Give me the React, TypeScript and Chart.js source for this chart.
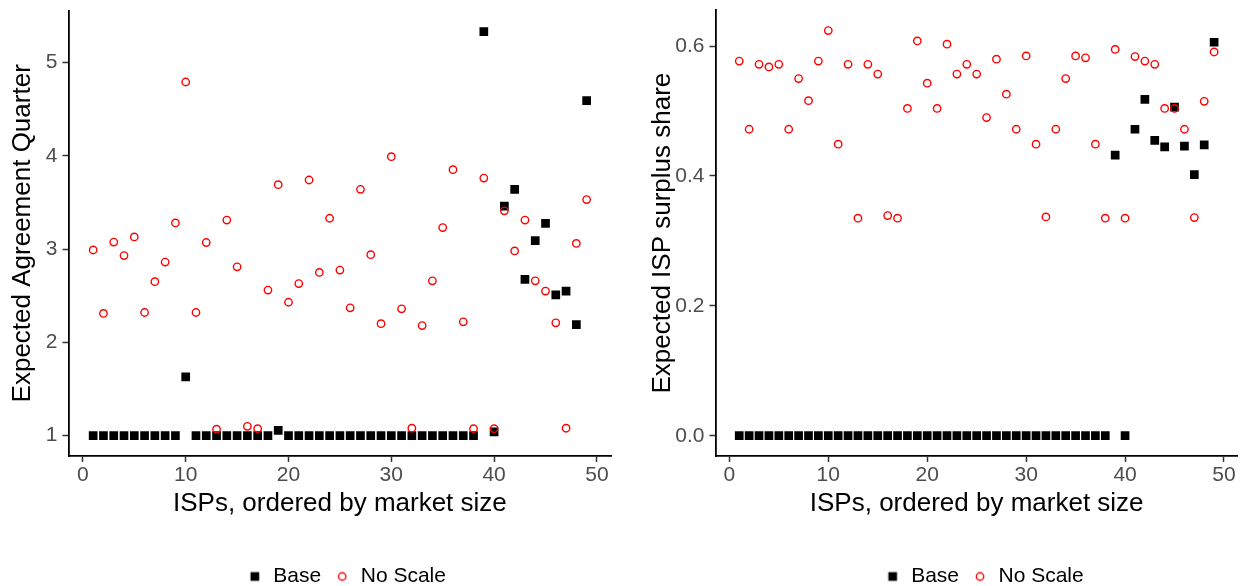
import React, { useEffect, useRef } from 'react';
import { Chart, registerables } from 'chart.js';

Chart.register(...registerables);

const FONT = "'Liberation Sans', Arial, Helvetica, sans-serif";

const ispIndex = [
  1, 2, 3, 4, 5, 6, 7, 8, 9, 10,
  11, 12, 13, 14, 15, 16, 17, 18, 19, 20,
  21, 22, 23, 24, 25, 26, 27, 28, 29, 30,
  31, 32, 33, 34, 35, 36, 37, 38, 39, 40,
  41, 42, 43, 44, 45, 46, 47, 48, 49,
];

const seriesLabels = ['Base', 'No Scale'];
const xAxisTitle = 'ISPs, ordered by market size';
const xTicks = [0, 10, 20, 30, 40, 50];

// Left panel: Expected Agreement Quarter
const quarterBase = [
  1, 1, 1, 1, 1, 1, 1, 1, 1, 1.63,
  1, 1, 1, 1, 1, 1, 1, 1, 1.057, 1,
  1, 1, 1, 1, 1, 1, 1, 1, 1, 1,
  1, 1, 1, 1, 1, 1, 1, 1, 5.33, 1.04,
  3.46, 3.64, 2.675, 3.09, 3.275, 2.51, 2.55, 2.19, 4.59,
];
const quarterNoScale = [
  2.99, 2.31, 3.075, 2.93, 3.13, 2.32, 2.65, 2.86, 3.28, 4.79,
  2.32, 3.07, 1.07, 3.31, 2.81, 1.1, 1.075, 2.56, 3.69, 2.43,
  2.63, 3.74, 2.75, 3.33, 2.775, 2.37, 3.64, 2.94, 2.2, 3.99,
  2.36, 1.08, 2.18, 2.66, 3.23, 3.85, 2.22, 1.075, 3.76, 1.075,
  3.41, 2.98, 3.31, 2.66, 2.55, 2.21, 1.08, 3.06, 3.53,
];
const quarterTicks = [1, 2, 3, 4, 5];

// Right panel: Expected ISP surplus share
const shareBase = [
  0, 0, 0, 0, 0, 0, 0, 0, 0, 0,
  0, 0, 0, 0, 0, 0, 0, 0, 0, 0,
  0, 0, 0, 0, 0, 0, 0, 0, 0, 0,
  0, 0, 0, 0, 0, 0, 0, 0, 0.432, 0,
  0.472, 0.518, 0.455, 0.445, 0.506, 0.446, 0.402, 0.448, 0.606,
];
const shareNoScale = [
  0.577, 0.472, 0.572, 0.568, 0.572, 0.472, 0.55, 0.516, 0.577, 0.624,
  0.449, 0.572, 0.335, 0.572, 0.557, 0.339, 0.335, 0.504, 0.608, 0.543,
  0.504, 0.603, 0.557, 0.572, 0.557, 0.49, 0.58, 0.526, 0.472, 0.585,
  0.449, 0.337, 0.472, 0.55, 0.585, 0.582, 0.449, 0.335, 0.595, 0.335,
  0.584, 0.577, 0.572, 0.504, 0.504, 0.472, 0.336, 0.515, 0.591,
];
const shareTicks = [0, 0.2, 0.4, 0.6];

const legendShift = {
  id: 'legendShift',
  afterLayout(chart: any, _args: any, opts: any) {
    const l = chart.legend;
    if (l && opts && opts.dx) {
      l.left += opts.dx;
      l.right += opts.dx;
    }
  },
};

function makeIcon(kind: 'square' | 'circle') {
  const c = document.createElement('canvas');
  c.width = 14;
  c.height = 14;
  const g = c.getContext('2d')!;
  if (kind === 'square') {
    g.fillStyle = '#000000';
    g.fillRect(7 - 4.35, 7 - 4.35, 8.7, 8.7);
  } else {
    g.strokeStyle = '#FF0000';
    g.lineWidth = 1.4;
    g.beginPath();
    g.arc(7, 7, 3.7, 0, Math.PI * 2);
    g.stroke();
  }
  return c;
}

type PanelProps = {
  base: number[];
  noScale: number[];
  yTitle: string;
  yMin: number;
  yMax: number;
  yTicks: number[];
  yFmt: (v: number) => string;
  yAxisWidth: number;
  yTitlePad: number;
  left: number;
  width: number;
  padTop: number;
  padRight: number;
  dx: number;
};

const CANVAS_H = 597;
const TICK_SIZE = 21;
const TITLE_SIZE = 26;

function Panel(p: PanelProps) {
  const ref = useRef<HTMLCanvasElement | null>(null);
  useEffect(() => {
    if (!ref.current) return;
    const icons = [makeIcon('square'), makeIcon('circle')];
    const chart = new Chart(ref.current, {
      type: 'scatter',
      data: {
        datasets: [
          {
            label: seriesLabels[0],
            data: ispIndex.map((x, i) => ({ x, y: p.base[i] })),
            pointStyle: 'rect',
            pointRadius: 6.15,
            pointHoverRadius: 6.15,
            backgroundColor: '#000000',
            borderColor: '#000000',
            borderWidth: 0,
            order: 1,
          },
          {
            label: seriesLabels[1],
            data: ispIndex.map((x, i) => ({ x, y: p.noScale[i] })),
            pointStyle: 'circle',
            pointRadius: 3.7,
            pointHoverRadius: 3.7,
            backgroundColor: 'rgba(0,0,0,0)',
            borderColor: '#FF0000',
            borderWidth: 1.4,
            order: 0,
          },
        ],
      },
      options: {
        animation: false,
        responsive: false,
        devicePixelRatio: 1,
        events: [],
        layout: { padding: { top: p.padTop, right: p.padRight, left: 0, bottom: 0 } },
        scales: {
          x: {
            type: 'linear',
            min: -1.4,
            max: 51.4,
            afterBuildTicks: (s: any) => {
              s.ticks = xTicks.map((v) => ({ value: v }));
            },
            afterFit: (s: any) => {
              s.height = 97;
              s.paddingLeft = 0;
              s.paddingRight = 0;
              s.paddingTop = 0;
              s.paddingBottom = 0;
            },
            ticks: {
              color: '#4D4D4D',
              font: { family: FONT, size: TICK_SIZE },
              padding: 1,
              maxRotation: 0,
              autoSkip: false,
              callback: (v: any) => String(v),
            },
            grid: {
              display: true,
              drawOnChartArea: false,
              drawTicks: true,
              tickLength: 6,
              tickWidth: 1.5,
              tickColor: '#333333',
            },
            border: { display: true, color: '#000000', width: 1.8 },
            title: {
              display: true,
              text: xAxisTitle,
              color: '#000000',
              font: { family: FONT, size: TITLE_SIZE },
              padding: { top: 0, bottom: 33.8 },
            },
          },
          y: {
            type: 'linear',
            min: p.yMin,
            max: p.yMax,
            afterBuildTicks: (s: any) => {
              s.ticks = p.yTicks.map((v) => ({ value: v }));
            },
            afterFit: (s: any) => {
              s.width = p.yAxisWidth;
              s.paddingTop = 0;
              s.paddingBottom = 0;
              s.paddingLeft = 0;
              s.paddingRight = 0;
            },
            ticks: {
              color: '#4D4D4D',
              font: { family: FONT, size: TICK_SIZE },
              padding: 5,
              autoSkip: false,
              callback: (v: any) => p.yFmt(Number(v)),
            },
            grid: {
              display: true,
              drawOnChartArea: false,
              drawTicks: true,
              tickLength: 6,
              tickWidth: 1.5,
              tickColor: '#333333',
            },
            border: { display: true, color: '#000000', width: 1.8 },
            title: {
              display: true,
              text: p.yTitle,
              color: '#000000',
              font: { family: FONT, size: TITLE_SIZE },
              padding: { top: p.yTitlePad, bottom: 0 },
            },
          },
        },
        plugins: {
          tooltip: { enabled: false },
          legend: {
            display: true,
            position: 'bottom',
            fullSize: false,
            labels: {
              usePointStyle: true,
              boxWidth: 16,
              boxHeight: 16,
              padding: 13,
              color: '#000000',
              font: { family: FONT, size: 21 },
              sort: (a: any, b: any) => a.datasetIndex - b.datasetIndex,
              generateLabels: (chart: any) => {
                const items = (Chart.defaults.plugins.legend.labels as any).generateLabels(chart);
                items.forEach((it: any) => {
                  it.pointStyle = icons[it.datasetIndex];
                });
                return items;
              },
            },
          },
          legendShift: { dx: p.dx },
        } as any,
      },
      plugins: [legendShift as any],
    } as any);
    return () => chart.destroy();
  }, []);
  return (
    <div style={{ position: 'absolute', left: p.left, top: 0, width: p.width, height: CANVAS_H }}>
      <canvas ref={ref} width={p.width} height={CANVAS_H} style={{ display: 'block' }} />
    </div>
  );
}

export default function App() {
  return (
    <div
      style={{
        position: 'fixed',
        left: 0,
        top: 0,
        width: 1244,
        height: 586,
        overflow: 'hidden',
        background: '#ffffff',
      }}
    >
      <Panel
        base={quarterBase}
        noScale={quarterNoScale}
        yTitle="Expected Agreement Quarter"
        yMin={0.7825}
        yMax={5.555}
        yTicks={quarterTicks}
        yFmt={(v) => String(v)}
        yAxisWidth={68.5}
        yTitlePad={7.4}
        left={0}
        width={622}
        padTop={10.6}
        padRight={10.7}
        dx={6.5}
      />
      <Panel
        base={shareBase}
        noScale={shareNoScale}
        yTitle="Expected ISP surplus share"
        yMin={-0.03125}
        yMax={0.6552}
        yTicks={shareTicks}
        yFmt={(v) => v.toFixed(1)}
        yAxisWidth={85.5}
        yTitlePad={16.9}
        left={630}
        width={614}
        padTop={10.3}
        padRight={3.3}
        dx={7.5}
      />
    </div>
  );
}
